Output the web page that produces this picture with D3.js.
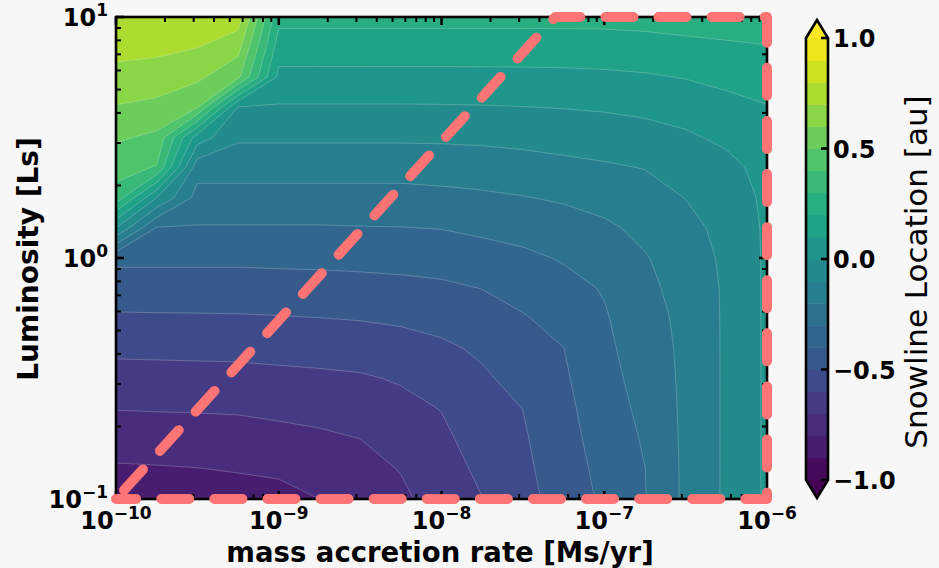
<!DOCTYPE html>
<html>
<head>
<meta charset="utf-8">
<script src="https://cdn.jsdelivr.net/npm/d3@7"></script>
<style>
  body { margin: 0; background: #f7f7f7; }
  text { font-family: "DejaVu Sans", sans-serif; }
</style>
</head>
<body>
<svg id="chart" width="939" height="568"></svg>
<script>
// ---------------- data ----------------
// grid axes (log10 of mass accretion rate and luminosity)
const logMdot = [-10, -9.75, -9.5, -9.25, -9, -8.75, -8.5, -8.25, -8, -7.75, -7.5, -7.25, -7, -6.75, -6.5, -6.25, -6];
const logLum  = [1, 0.875, 0.75, 0.625, 0.5, 0.375, 0.25, 0.125, 0, -0.125, -0.25, -0.375, -0.5, -0.625, -0.75, -0.875, -1];
// log10 snowline location [au], one row per luminosity (top row = 10 Ls)
const snowlineGrid = [
  [0.795, 0.790, 0.775, 0.750, 0.230, 0.230, 0.230, 0.230, 0.230, 0.230, 0.230, 0.230, 0.230, 0.235, 0.244, 0.247, 0.248],
  [0.735, 0.724, 0.702, 0.636, 0.151, 0.151, 0.151, 0.151, 0.151, 0.151, 0.151, 0.152, 0.155, 0.162, 0.174, 0.186, 0.196],
  [0.664, 0.653, 0.619, 0.520, 0.072, 0.072, 0.072, 0.072, 0.072, 0.073, 0.074, 0.076, 0.081, 0.089, 0.104, 0.124, 0.144],
  [0.594, 0.574, 0.504, -0.009, -0.009, -0.009, -0.009, -0.009, -0.008, -0.006, -0.002, 0.003, 0.010, 0.022, 0.041, 0.070, 0.095],
  [0.514, 0.479, 0.050, -0.086, -0.086, -0.086, -0.086, -0.086, -0.085, -0.081, -0.073, -0.062, -0.053, -0.039, -0.015, 0.020, 0.060],
  [0.437, 0.393, -0.162, -0.162, -0.162, -0.162, -0.162, -0.162, -0.157, -0.150, -0.140, -0.126, -0.112, -0.097, -0.056, -0.030, 0.035],
  [0.360, 0.000, -0.235, -0.235, -0.235, -0.235, -0.235, -0.235, -0.227, -0.217, -0.204, -0.189, -0.168, -0.138, -0.098, -0.055, 0.020],
  [0.000, -0.307, -0.307, -0.307, -0.307, -0.307, -0.304, -0.302, -0.297, -0.281, -0.265, -0.242, -0.216, -0.178, -0.130, -0.070, 0.015],
  [-0.379, -0.379, -0.379, -0.379, -0.377, -0.375, -0.371, -0.366, -0.359, -0.340, -0.320, -0.292, -0.254, -0.206, -0.155, -0.080, 0.015],
  [-0.447, -0.447, -0.447, -0.447, -0.442, -0.439, -0.434, -0.427, -0.417, -0.398, -0.366, -0.330, -0.293, -0.220, -0.170, -0.085, 0.015],
  [-0.514, -0.512, -0.511, -0.509, -0.506, -0.501, -0.495, -0.485, -0.469, -0.442, -0.408, -0.366, -0.310, -0.234, -0.178, -0.085, 0.015],
  [-0.579, -0.577, -0.575, -0.573, -0.568, -0.562, -0.555, -0.539, -0.517, -0.485, -0.438, -0.401, -0.322, -0.248, -0.180, -0.085, 0.015],
  [-0.639, -0.637, -0.635, -0.633, -0.625, -0.619, -0.611, -0.591, -0.557, -0.514, -0.469, -0.413, -0.334, -0.262, -0.180, -0.085, 0.015],
  [-0.697, -0.694, -0.692, -0.689, -0.678, -0.669, -0.655, -0.628, -0.597, -0.536, -0.499, -0.425, -0.346, -0.276, -0.180, -0.085, 0.015],
  [-0.754, -0.751, -0.747, -0.742, -0.731, -0.717, -0.700, -0.662, -0.620, -0.558, -0.511, -0.436, -0.358, -0.290, -0.180, -0.085, 0.015],
  [-0.811, -0.807, -0.802, -0.793, -0.783, -0.759, -0.729, -0.696, -0.641, -0.580, -0.521, -0.448, -0.370, -0.301, -0.180, -0.085, 0.015],
  [-0.868, -0.864, -0.856, -0.845, -0.833, -0.800, -0.759, -0.717, -0.663, -0.602, -0.532, -0.459, -0.382, -0.304, -0.180, -0.085, 0.015]
];
const contourLevels = [-1.0, -0.9, -0.8, -0.7, -0.6, -0.5, -0.4, -0.3, -0.2, -0.1, 0.0, 0.1, 0.2, 0.3, 0.4, 0.5, 0.6, 0.7, 0.8, 0.9, 1.0];
const xTickValues = [1e-10, 1e-9, 1e-8, 1e-7, 1e-6];
const xTickExps = ["\u221210", "\u22129", "\u22128", "\u22127", "\u22126"];
const yTickValues = [0.1, 1, 10];
const yTickExps = ["\u22121", "0", "1"];
const cbarTickValues = [-1.0, -0.5, 0.0, 0.5, 1.0];
const cbarTickLabels = ["\u22121.0", "\u22120.5", "0.0", "0.5", "1.0"];
// dashed region outline (Mdot, L)
const regionMdot = [1e-10, 5e-8, 1e-6, 1e-6, 1e-10];
const regionLum  = [0.1, 10, 10, 0.1, 0.1];

// ---------------- drawing ----------------
const W = 939, H = 568;
const plot = { left: 116, right: 767, top: 17, bottom: 499 };
const svg = d3.select("#chart");
svg.append("rect").attr("width", W).attr("height", H).attr("fill", "#f7f7f7");

const x = d3.scaleLog().domain([1e-10, 1e-6]).range([plot.left, plot.right]);
const y = d3.scaleLog().domain([0.1, 10]).range([plot.bottom, plot.top]);
const bandColor = lv => d3.interpolateViridis((lv + 0.05 + 1) / 2);

svg.append("clipPath").attr("id", "plotclip").append("rect")
  .attr("x", plot.left).attr("y", plot.top)
  .attr("width", plot.right - plot.left).attr("height", plot.bottom - plot.top);

const nx = logMdot.length, ny = logLum.length;
const stepM = logMdot[1] - logMdot[0], stepL = logLum[1] - logLum[0];
const contours = d3.contours().size([nx, ny]).smooth(true)
  .thresholds(contourLevels.slice(0, -1))(snowlineGrid.flat());
const proj = d3.geoTransform({
  point: function (cx, cy) {
    const lm = logMdot[0] + (cx - 0.5) * stepM;
    const ll = logLum[0] + (cy - 0.5) * stepL;
    this.stream.point(x(Math.pow(10, lm)), y(Math.pow(10, ll)));
  }
});
const geo = d3.geoPath(proj);
const gc = svg.append("g").attr("clip-path", "url(#plotclip)");
gc.selectAll("path.band").data(contours).join("path")
  .attr("class", "band").attr("d", geo).attr("fill", d => bandColor(d.value));
gc.selectAll("path.seam").data(contours.slice(1)).join("path")
  .attr("class", "seam").attr("d", geo).attr("fill", "none")
  .attr("stroke", "rgba(255,255,255,0.28)").attr("stroke-width", 0.8);

// frame
svg.append("rect").attr("x", plot.left).attr("y", plot.top)
  .attr("width", plot.right - plot.left).attr("height", plot.bottom - plot.top)
  .attr("fill", "none").attr("stroke", "#000").attr("stroke-width", 2.6);

// ticks (inward, all four sides)
const isMajor = v => Math.abs(Math.log10(v) - Math.round(Math.log10(v))) < 1e-6;
const tk = svg.append("g").attr("stroke", "#000");
x.ticks().forEach(v => {
  const px = x(v), len = isMajor(v) ? 8 : 5, sw = isMajor(v) ? 2.6 : 2;
  tk.append("line").attr("x1", px).attr("x2", px).attr("y1", plot.bottom).attr("y2", plot.bottom - len).attr("stroke-width", sw);
  tk.append("line").attr("x1", px).attr("x2", px).attr("y1", plot.top).attr("y2", plot.top + len).attr("stroke-width", sw);
});
y.ticks().forEach(v => {
  const py = y(v), len = isMajor(v) ? 8 : 5, sw = isMajor(v) ? 2.6 : 2;
  tk.append("line").attr("y1", py).attr("y2", py).attr("x1", plot.left).attr("x2", plot.left + len).attr("stroke-width", sw);
  tk.append("line").attr("y1", py).attr("y2", py).attr("x1", plot.right).attr("x2", plot.right - len).attr("stroke-width", sw);
});

// tick labels
xTickValues.forEach((v, i) => {
  const t = svg.append("text").attr("x", x(v)).attr("y", 529).attr("text-anchor", "middle")
    .attr("font-weight", "bold").attr("font-size", 24).attr("fill", "#000");
  t.append("tspan").text("10");
  t.append("tspan").attr("dy", -10).attr("font-size", 17).text(xTickExps[i]);
});
yTickValues.forEach((v, i) => {
  const t = svg.append("text").attr("x", 108).attr("y", y(v) + 9).attr("text-anchor", "end")
    .attr("font-weight", "bold").attr("font-size", 24).attr("fill", "#000");
  t.append("tspan").text("10");
  t.append("tspan").attr("dy", -10).attr("font-size", 17).text(yTickExps[i]);
});

// axis labels
svg.append("text").attr("x", 440).attr("y", 561.5).attr("text-anchor", "middle")
  .attr("font-weight", "bold").attr("font-size", 27.5).text("mass accretion rate [Ms/yr]");
svg.append("text").attr("transform", "translate(38,259) rotate(-90)").attr("text-anchor", "middle")
  .attr("font-weight", "bold").attr("font-size", 28).text("Luminosity [Ls]");

// colorbar
const cb = { left: 806, right: 828, top: 38, bottom: 480, tip: 18 };
const cy = d3.scaleLinear().domain([-1, 1]).range([cb.bottom, cb.top]);
const cbg = svg.append("g");
contourLevels.slice(0, -1).forEach((lv, i) => {
  const next = contourLevels[i + 1];
  cbg.append("rect").attr("x", cb.left).attr("width", cb.right - cb.left)
    .attr("y", cy(next)).attr("height", cy(lv) - cy(next) + 0.5).attr("fill", bandColor(lv));
});
const mid = (cb.left + cb.right) / 2;
cbg.append("path").attr("d", `M${cb.left},${cb.top}L${mid},${cb.top - cb.tip}L${cb.right},${cb.top}Z`).attr("fill", d3.interpolateViridis(1));
cbg.append("path").attr("d", `M${cb.left},${cb.bottom}L${mid},${cb.bottom + cb.tip}L${cb.right},${cb.bottom}Z`).attr("fill", d3.interpolateViridis(0));
cbg.append("path")
  .attr("d", `M${cb.left},${cb.top}L${mid},${cb.top - cb.tip}L${cb.right},${cb.top}L${cb.right},${cb.bottom}L${mid},${cb.bottom + cb.tip}L${cb.left},${cb.bottom}Z`)
  .attr("fill", "none").attr("stroke", "#000").attr("stroke-width", 2.6).attr("stroke-linejoin", "miter");
cbarTickValues.forEach((v, i) => {
  cbg.append("line").attr("x1", cb.right).attr("x2", cb.right - 7).attr("y1", cy(v)).attr("y2", cy(v))
    .attr("stroke", "#000").attr("stroke-width", 2.6);
  cbg.append("text").attr("x", 833).attr("y", cy(v) + 9).attr("font-weight", "bold")
    .attr("font-size", 24).text(cbarTickLabels[i]);
});
svg.append("text").attr("transform", "translate(927,272) rotate(-90)").attr("text-anchor", "middle")
  .attr("font-size", 31).text("Snowline Location [au]");

// dashed region outline
const regionLine = d3.line().x(d => x(d[0])).y(d => y(d[1]));
svg.append("path").attr("d", regionLine(d3.zip(regionMdot, regionLum)))
  .attr("fill", "none").attr("stroke", "#ff7474").attr("stroke-width", 10)
  .attr("stroke-linecap", "round").attr("stroke-linejoin", "round")
  .attr("stroke-dasharray", "28 25.1").attr("stroke-dashoffset", -12);
</script>
</body>
</html>
